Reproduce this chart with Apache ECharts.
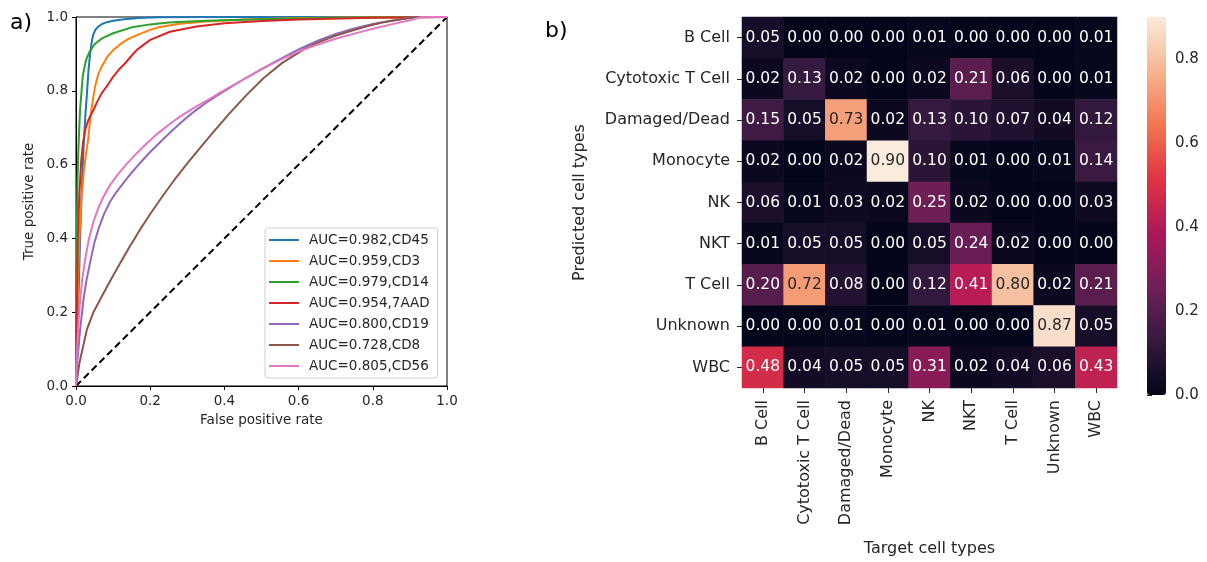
<!DOCTYPE html>
<html>
<head>
<meta charset="utf-8">
<script src="https://cdn.jsdelivr.net/npm/echarts@6/dist/echarts.min.js"></script>
<style>
  html, body { margin: 0; padding: 0; background: #fff; }
  #main { width: 1207px; height: 562px; }
</style>
</head>
<body>
<div id="main"></div>
<script>
// a) ROC curves, points as [false positive rate, true positive rate]
var rocCD45 = [[0,0],[0.003,0.1],[0.007,0.25],[0.011,0.4],[0.015,0.52],[0.02,0.64],[0.025,0.73],[0.03,0.8],[0.034,0.86],[0.038,0.9],[0.042,0.93],[0.046,0.951],[0.052,0.965],[0.06,0.974],[0.07,0.981],[0.083,0.986],[0.1,0.99],[0.13,0.994],[0.17,0.997],[0.22,0.999],[0.35,1],[1,1]];
var rocCD3 = [[0,0],[0.003,0.15],[0.006,0.3],[0.01,0.42],[0.015,0.51],[0.021,0.58],[0.027,0.63],[0.033,0.67],[0.04,0.74],[0.051,0.81],[0.06,0.845],[0.069,0.865],[0.085,0.893],[0.1,0.91],[0.12,0.927],[0.14,0.94],[0.164,0.951],[0.2,0.965],[0.226,0.973],[0.28,0.982],[0.35,0.988],[0.45,0.993],[0.6,0.997],[0.8,0.999],[1,1]];
var rocCD14 = [[0,0],[0.001,0.2],[0.002,0.4],[0.004,0.55],[0.006,0.63],[0.008,0.68],[0.011,0.75],[0.015,0.8],[0.018,0.838],[0.022,0.86],[0.027,0.883],[0.035,0.903],[0.05,0.926],[0.07,0.942],[0.1,0.956],[0.15,0.972],[0.2,0.98],[0.25,0.985],[0.35,0.99],[0.5,0.994],[0.7,0.998],[1,1]];
var roc7AAD = [[0,0],[0.002,0.2],[0.005,0.4],[0.009,0.52],[0.014,0.61],[0.019,0.66],[0.025,0.695],[0.033,0.72],[0.047,0.748],[0.058,0.772],[0.069,0.793],[0.085,0.815],[0.1,0.838],[0.115,0.857],[0.132,0.874],[0.148,0.893],[0.164,0.911],[0.2,0.938],[0.253,0.96],[0.325,0.974],[0.4,0.983],[0.5,0.989],[0.6,0.993],[0.8,0.998],[1,1]];
var rocCD19 = [[0,0],[0.004,0.07],[0.011,0.152],[0.02,0.233],[0.028,0.285],[0.038,0.335],[0.05,0.39],[0.062,0.43],[0.076,0.467],[0.092,0.5],[0.11,0.527],[0.13,0.553],[0.15,0.578],[0.175,0.607],[0.2,0.634],[0.23,0.664],[0.26,0.693],[0.29,0.72],[0.32,0.745],[0.35,0.767],[0.38,0.787],[0.42,0.812],[0.46,0.836],[0.5,0.859],[0.55,0.886],[0.6,0.912],[0.65,0.935],[0.7,0.954],[0.75,0.969],[0.8,0.981],[0.85,0.99],[0.91,1],[1,1]];
var rocCD8 = [[0,0],[0.009,0.061],[0.029,0.152],[0.047,0.2],[0.069,0.242],[0.095,0.29],[0.119,0.333],[0.145,0.378],[0.172,0.423],[0.2,0.466],[0.235,0.517],[0.27,0.565],[0.3,0.603],[0.33,0.64],[0.37,0.688],[0.415,0.74],[0.46,0.789],[0.505,0.834],[0.555,0.875],[0.612,0.911],[0.65,0.93],[0.693,0.947],[0.74,0.962],[0.784,0.975],[0.825,0.985],[0.864,0.992],[0.918,1],[1,1]];
var rocCD56 = [[0,0],[0.002,0.08],[0.006,0.16],[0.011,0.23],[0.017,0.29],[0.025,0.345],[0.035,0.4],[0.047,0.445],[0.06,0.482],[0.075,0.515],[0.092,0.545],[0.112,0.572],[0.135,0.6],[0.16,0.627],[0.19,0.657],[0.22,0.684],[0.25,0.708],[0.28,0.73],[0.32,0.755],[0.35,0.772],[0.38,0.79],[0.42,0.813],[0.46,0.836],[0.5,0.858],[0.55,0.884],[0.6,0.906],[0.65,0.925],[0.7,0.941],[0.75,0.955],[0.8,0.968],[0.85,0.98],[0.9,0.991],[0.93,1],[1,1]];
var rocNames = ['AUC=0.982,CD45','AUC=0.959,CD3','AUC=0.979,CD14','AUC=0.954,7AAD','AUC=0.800,CD19','AUC=0.728,CD8','AUC=0.805,CD56'];
var rocColors = ['#1f77b4','#ff7f0e','#2ca02c','#d62728','#9467bd','#8c564b','#e377c2'];
var rocCurves = [rocCD45, rocCD3, rocCD14, roc7AAD, rocCD19, rocCD8, rocCD56];
var chance = [[0,0],[1,1]];

// b) confusion matrix, rows = predicted, columns = target
var cellTypes = ['B Cell','Cytotoxic T Cell','Damaged/Dead','Monocyte','NK','NKT','T Cell','Unknown','WBC'];
var confusion = [
  [0.05,0.00,0.00,0.00,0.01,0.00,0.00,0.00,0.01],
  [0.02,0.13,0.02,0.00,0.02,0.21,0.06,0.00,0.01],
  [0.15,0.05,0.73,0.02,0.13,0.10,0.07,0.04,0.12],
  [0.02,0.00,0.02,0.90,0.10,0.01,0.00,0.01,0.14],
  [0.06,0.01,0.03,0.02,0.25,0.02,0.00,0.00,0.03],
  [0.01,0.05,0.05,0.00,0.05,0.24,0.02,0.00,0.00],
  [0.20,0.72,0.08,0.00,0.12,0.41,0.80,0.02,0.21],
  [0.00,0.00,0.01,0.00,0.01,0.00,0.00,0.87,0.05],
  [0.48,0.04,0.05,0.05,0.31,0.02,0.04,0.06,0.43]
];
var unitTicks = [0, 0.2, 0.4, 0.6, 0.8, 1.0];
var colorbarTicks = [0, 0.2, 0.4, 0.6, 0.8];
var rocket = ['#03051a','#35193e','#701f57','#ad1759','#e13342','#f37651','#f6b48f','#faebdd'];

var font = 'DejaVu Sans';
var ink = '#262626';

var heatData = [];
confusion.forEach(function (row, r) {
  row.forEach(function (v, c) {
    heatData.push({ value: [c, r, v], label: { color: v > 0.6 ? ink : '#ffffff' } });
  });
});

var series = rocCurves.map(function (pts, i) {
  return {
    name: rocNames[i], type: 'line', xAxisIndex: 0, yAxisIndex: 0,
    data: pts, symbol: 'none', smooth: false,
    lineStyle: { color: rocColors[i], width: 2 }, itemStyle: { color: rocColors[i] },
    z: 3 + i
  };
});
series.push({
  type: 'line', xAxisIndex: 0, yAxisIndex: 0, data: chance, symbol: 'none',
  lineStyle: { color: '#000', width: 2, type: [7, 4] }, z: 2
});
series.push({
  type: 'heatmap', xAxisIndex: 1, yAxisIndex: 1, data: heatData,
  label: { show: true, fontFamily: font, fontSize: 15.5, formatter: function (p) { return p.value[2].toFixed(2); } },
  emphasis: { disabled: true }
});

var chart = echarts.init(document.getElementById('main'), null, { renderer: 'canvas' });
chart.setOption({
  animation: false,
  backgroundColor: '#fff',
  textStyle: { fontFamily: font },
  title: [
    { text: 'a)', left: 10, top: 12, padding: 0, textStyle: { fontFamily: font, fontSize: 22, fontWeight: 'normal', color: '#000' } },
    { text: 'b)', left: 545, top: 20, padding: 0, textStyle: { fontFamily: font, fontSize: 22, fontWeight: 'normal', color: '#000' } }
  ],
  legend: {
    data: rocNames, orient: 'vertical', left: 265, top: 228,
    icon: 'path://M0,0 L30,0 L30,2 L0,2 Z',
    padding: [5, 8, 5, 4], itemWidth: 30, itemHeight: 14, itemGap: 7,
    borderColor: '#d0d0d0', borderWidth: 1, borderRadius: 3, backgroundColor: 'rgba(255,255,255,0.85)',
    textStyle: { fontFamily: font, fontSize: 13.5, color: ink, padding: [0, 0, 0, 5] },
    selectedMode: false
  },
  grid: [
    { left: 76, top: 17, width: 371, height: 369, show: true, borderColor: '#000', borderWidth: 1, backgroundColor: 'transparent' },
    { left: 742, top: 17, width: 375, height: 377 },
    { left: 1147, top: 17, width: 19, height: 378 }
  ],
  xAxis: [
    {
      gridIndex: 0, type: 'value', min: 0, max: 1, interval: 0.2,
      name: 'False positive rate', nameLocation: 'middle', nameGap: 27,
      nameTextStyle: { fontFamily: font, fontSize: 13.5, color: ink },
      axisLine: { lineStyle: { color: '#000' } },
      axisTick: { show: true, length: 4, lineStyle: { color: '#000' }, customValues: unitTicks },
      axisLabel: { fontFamily: font, fontSize: 13.5, color: ink, margin: 8, customValues: unitTicks, formatter: function (v) { return v.toFixed(1); } },
      splitLine: { show: false }
    },
    {
      gridIndex: 1, type: 'category', data: cellTypes,
      name: 'Target cell types', nameLocation: 'middle', nameGap: 153,
      nameTextStyle: { fontFamily: font, fontSize: 16, color: ink },
      axisLine: { show: false },
      axisTick: { show: true, alignWithLabel: true, length: 5, lineStyle: { color: ink } },
      axisLabel: { rotate: 90, interval: 0, fontFamily: font, fontSize: 16, color: ink, margin: 12 },
      splitArea: { show: false }
    },
    { gridIndex: 2, type: 'value', show: false, min: 0, max: 1 }
  ],
  yAxis: [
    {
      gridIndex: 0, type: 'value', min: 0, max: 1, interval: 0.2,
      name: 'True positive rate', nameLocation: 'middle', nameGap: 40,
      nameTextStyle: { fontFamily: font, fontSize: 13.5, color: ink },
      axisLine: { show: true, lineStyle: { color: '#000' } },
      axisTick: { show: true, length: 4, lineStyle: { color: '#000' }, customValues: unitTicks },
      axisLabel: { fontFamily: font, fontSize: 13.5, color: ink, margin: 8, customValues: unitTicks, formatter: function (v) { return v.toFixed(1); } },
      splitLine: { show: false }
    },
    {
      gridIndex: 1, type: 'category', data: cellTypes, inverse: true,
      name: 'Predicted cell types', nameLocation: 'middle', nameGap: 154,
      nameTextStyle: { fontFamily: font, fontSize: 16, color: ink },
      axisLine: { show: false },
      axisTick: { show: true, alignWithLabel: true, length: 5, lineStyle: { color: ink } },
      axisLabel: { interval: 0, fontFamily: font, fontSize: 16, color: ink, margin: 12 },
      splitArea: { show: false }
    },
    {
      gridIndex: 2, type: 'value', min: 0, max: 0.9, position: 'right',
      axisLine: { show: false },
      axisTick: { show: true, length: 5, lineStyle: { color: ink }, customValues: colorbarTicks },
      axisLabel: { fontFamily: font, fontSize: 15, color: ink, margin: 9, customValues: colorbarTicks, formatter: function (v) { return v.toFixed(1); } },
      splitLine: { show: false }
    }
  ],
  visualMap: {
    type: 'continuous', min: 0, max: 0.9, seriesIndex: 8,
    left: 1147, top: 17, padding: 0, itemWidth: 19, itemHeight: 378,
    calculable: false, hoverLink: false, indicatorSize: 0,
    inRange: { color: rocket }
  },
  series: series
});
</script>
</body>
</html>
